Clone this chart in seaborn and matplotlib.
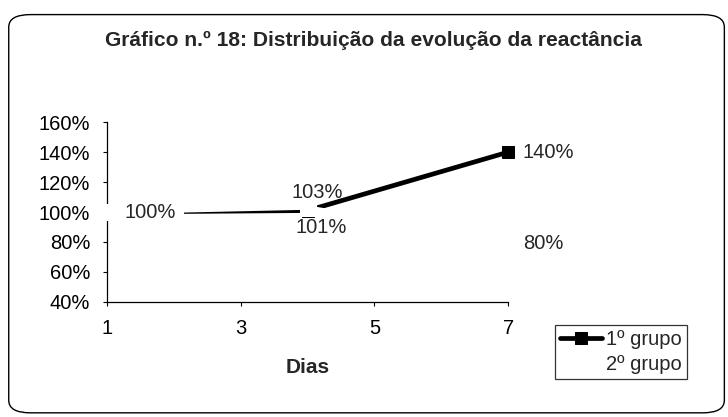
import matplotlib
matplotlib.use("Agg")
import matplotlib.pyplot as plt
import seaborn as sns
import pandas as pd
from matplotlib.patches import FancyBboxPatch
from matplotlib.ticker import FuncFormatter

sns.set_theme(style="white")
plt.rcParams['font.family'] = ['Liberation Sans', 'DejaVu Sans']

# ---- data ----
dias = [1, 4, 7]
grupo1 = [1.00, 1.01, 1.40]
grupo2 = [1.00, 1.03, 0.80]
series_names = ["1º grupo", "2º grupo"]
x_ticks = [1, 3, 5, 7]
y_ticks = [0.4, 0.6, 0.8, 1.0, 1.2, 1.4, 1.6]
title = "Gráfico n.º 18: Distribuição da evolução da reactância"
x_label = "Dias"

df1 = pd.DataFrame({"Dias": dias, "valor": grupo1})
df2 = pd.DataFrame({"Dias": dias, "valor": grupo2})

fig = plt.figure(figsize=(7.28, 4.17), dpi=100)
fig.patch.set_facecolor("white")
ax = fig.add_axes([0.147, 0.276, 0.551, 0.431])

sns.lineplot(data=df1, x="Dias", y="valor", ax=ax, color="black", lw=3.4,
             marker="s", markersize=8, markeredgecolor="black",
             markerfacecolor="black", label=series_names[0], zorder=3,
             clip_on=False)
sns.lineplot(data=df2, x="Dias", y="valor", ax=ax, color="white", lw=3.2,
             marker="s", markersize=11.5, markeredgecolor="white",
             markerfacecolor="white", label=series_names[1], zorder=4,
             clip_on=False)

ax.set_xlim(1, 7)
ax.set_ylim(0.4, 1.6)
ax.set_xticks(x_ticks)
ax.set_yticks(y_ticks)
ax.yaxis.set_major_formatter(FuncFormatter(lambda v, p: f"{v*100:.0f}%"))
ax.tick_params(axis="both", labelsize=14.5, colors="black", length=3,
               width=0.8, direction="out", bottom=True, left=True)
ax.tick_params(axis="x", pad=9)
ax.tick_params(axis="y", pad=9)
for s in ["top", "right"]:
    ax.spines[s].set_visible(False)
for s in ["left", "bottom"]:
    ax.spines[s].set_color("black")
    ax.spines[s].set_linewidth(0.9)
ax.set_facecolor("white")
ax.set_ylabel("")
ax.set_xlabel(x_label, fontsize=15, fontweight="bold")
ax.xaxis.set_label_coords(0.5, -0.367)
ax.xaxis.label.set_va("center")

# data labels
fs = 14.5
ax.annotate(f"{grupo1[0]*100:.0f}%", (dias[0], grupo1[0]), xytext=(31, 0),
            textcoords="offset points", ha="center", va="center", fontsize=fs,
            zorder=6, bbox=dict(boxstyle="square,pad=0.4", fc="white", ec="none"))
ax.annotate(f"{grupo2[1]*100:.0f}%", (dias[1], grupo2[1]), xytext=(7, 11),
            textcoords="offset points", ha="center", va="center", fontsize=fs,
            zorder=6)
ax.annotate(f"{grupo1[1]*100:.0f}%", (dias[1], grupo1[1]), xytext=(10, -12),
            textcoords="offset points", ha="center", va="center", fontsize=fs,
            zorder=6)
ax.annotate(f"{grupo1[2]*100:.0f}%", (dias[2], grupo1[2]), xytext=(10, 0),
            textcoords="offset points", ha="left", va="center", fontsize=fs,
            zorder=6)
ax.annotate(f"{grupo2[2]*100:.0f}%", (dias[2], grupo2[2]), xytext=(11, -1),
            textcoords="offset points", ha="left", va="center", fontsize=fs,
            zorder=6)

fig.text(0.513, 0.903, title, ha="center", va="center", fontsize=15.1,
         fontweight="bold")

leg = ax.legend(loc="upper left", bbox_to_anchor=(0.762, 0.2206),
                bbox_transform=fig.transFigure, frameon=True, fancybox=False,
                fontsize=14.5, handlelength=2.1, borderpad=0.25,
                handletextpad=0.2, labelspacing=0.3, borderaxespad=0)
leg.get_frame().set_edgecolor("black")
leg.get_frame().set_linewidth(0.9)

frame = FancyBboxPatch((0.012, 0.01), 0.983, 0.955,
                       boxstyle="round,pad=0,rounding_size=0.03",
                       transform=fig.transFigure, fill=False,
                       edgecolor="black", linewidth=1.0)
fig.patches.append(frame)

fig.savefig("out.png", dpi=100, facecolor="white")
